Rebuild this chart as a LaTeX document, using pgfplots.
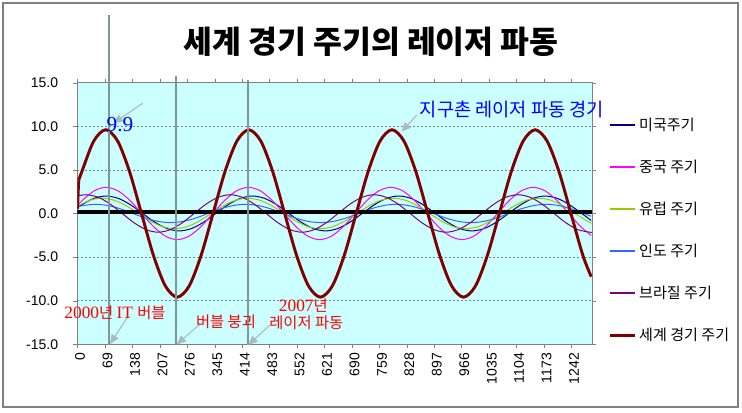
\documentclass[border=0pt]{standalone}
\usepackage{pgfplots}
\pgfplotsset{compat=1.18}
\usetikzlibrary{arrows.meta}
\usepackage{fontspec}
\setmainfont{Liberation Sans}
\newfontfamily\cjk{Noto Sans CJK KR}
\newfontfamily\srf{Liberation Serif}
\definecolor{bgcyan}{HTML}{CCFFFF}
\definecolor{colus}{HTML}{000080}
\definecolor{colchina}{HTML}{FF00FF}
\definecolor{coleu}{HTML}{99CC00}
\definecolor{colindia}{HTML}{3366FF}
\definecolor{colbrazil}{HTML}{800080}
\definecolor{colworld}{HTML}{800000}
\definecolor{vline}{HTML}{7F9797}
\definecolor{arrc}{HTML}{A8BCBC}
\definecolor{frame}{HTML}{808080}
\begin{document}
\begin{tikzpicture}
\path[use as bounding box] (0,0) rectangle (556.5pt,309pt);
\begin{axis}[
  scale only axis, width=385.9pt, height=196.2pt,
  at={(58.1pt,50.8pt)}, anchor=south west,
  xmin=0, xmax=1294, ymin=-15, ymax=15,
  axis background/.style={fill=bgcyan},
  axis line style={draw=frame},
  ytick={-15,-10,...,15},
  ymajorgrids, grid style={dash pattern=on 1.5pt off 1.5pt, frame, line width=0.5pt},
  xtick={0,69,...,1242},
  tick align=outside, major tick length=3pt,
  tick style={frame},
  /pgf/number format/assume math mode=true,
  ticklabel style={font=\fontsize{10.5}{12}\selectfont},
  y tick label style={/pgf/number format/.cd, fixed, fixed zerofill, precision=1, /tikz/.cd, xshift=-8pt},
  x tick label style={rotate=90, anchor=east, yshift=-2pt, /pgf/number format/1000 sep={}},
  legend style={at={(rel axis cs:1,1)}, anchor=north west, xshift=9pt, yshift=-22pt,
    draw=none, fill=none, font=\cjk\fontsize{11.3}{13}\selectfont, row sep=16.7pt,
    cells={anchor=west}},
  legend image code/.code={\draw[#1] (0pt,0pt) -- (19pt,0pt);},
  clip=true,
]
\addplot[color=colus, line width=0.75pt, smooth, legend image post style={line width=1.2pt}] coordinates {(0,0.67)(10.7,1)(41.3,1.73)(72,2)(102.7,1.73)(133.3,1)(164,0)(194.7,-1)(225.3,-1.73)(256,-2)(286.7,-1.73)(317.3,-1)(348,0)(378.7,1)(409.3,1.73)(440,2)(470.7,1.73)(501.3,1)(532,0)(562.7,-1)(593.3,-1.73)(624,-2)(654.7,-1.73)(685.3,-1)(716,0)(746.7,1)(777.3,1.73)(808,2)(838.7,1.73)(869.3,1)(900,0)(930.7,-1)(961.3,-1.73)(992,-2)(1022.7,-1.73)(1053.3,-1)(1084,0)(1114.7,1)(1145.3,1.73)(1176,2)(1206.7,1.73)(1237.3,1)(1268,0)(1292,-0.8)};
\addlegendentry{미국주기}
\addplot[color=colchina, line width=0.75pt, smooth, legend image post style={line width=1.2pt}] coordinates {(0,0.91)(12.3,1.5)(42.2,2.6)(72,3)(101.8,2.6)(131.7,1.5)(161.5,0)(191.3,-1.5)(221.2,-2.6)(251,-3)(280.8,-2.6)(310.7,-1.5)(340.5,0)(370.3,1.5)(400.2,2.6)(430,3)(459.8,2.6)(489.7,1.5)(519.5,0)(549.3,-1.5)(579.2,-2.6)(609,-3)(638.8,-2.6)(668.7,-1.5)(698.5,0)(728.3,1.5)(758.2,2.6)(788,3)(817.8,2.6)(847.7,1.5)(877.5,0)(907.3,-1.5)(937.2,-2.6)(967,-3)(996.8,-2.6)(1026.7,-1.5)(1056.5,0)(1086.3,1.5)(1116.2,2.6)(1146,3)(1175.8,2.6)(1205.7,1.5)(1235.5,0)(1265.3,-1.5)(1292,-2.51)};
\addlegendentry{중국 주기}
\addplot[color=coleu, line width=0.75pt, smooth, legend image post style={line width=1.2pt}] coordinates {(0,0.85)(31.5,1.52)(62,1.75)(92.5,1.52)(123,0.88)(153.5,0)(184,-0.88)(214.5,-1.52)(245,-1.75)(275.5,-1.52)(306,-0.88)(336.5,0)(367,0.88)(397.5,1.52)(428,1.75)(458.5,1.52)(489,0.88)(519.5,0)(550,-0.88)(580.5,-1.52)(611,-1.75)(641.5,-1.52)(672,-0.88)(702.5,0)(733,0.88)(763.5,1.52)(794,1.75)(824.5,1.52)(855,0.88)(885.5,0)(916,-0.88)(946.5,-1.52)(977,-1.75)(1007.5,-1.52)(1038,-0.88)(1068.5,0)(1099,0.88)(1129.5,1.52)(1160,1.75)(1190.5,1.52)(1221,0.88)(1251.5,0)(1282,-0.88)(1292,-1.12)};
\addlegendentry{유럽 주기}
\addplot[color=colindia, line width=0.75pt, smooth, legend image post style={line width=1.2pt}] coordinates {(0,0.77)(13.5,0.91)(45,1.05)(76.5,0.91)(108,0.53)(139.5,0)(171,-0.53)(202.5,-0.91)(234,-1.05)(265.5,-0.91)(297,-0.53)(328.5,0)(360,0.53)(391.5,0.91)(423,1.05)(454.5,0.91)(486,0.53)(517.5,0)(549,-0.53)(580.5,-0.91)(612,-1.05)(643.5,-0.91)(675,-0.53)(706.5,0)(738,0.53)(769.5,0.91)(801,1.05)(832.5,0.91)(864,0.53)(895.5,0)(927,-0.53)(958.5,-0.91)(990,-1.05)(1021.5,-0.91)(1053,-0.53)(1084.5,0)(1116,0.53)(1147.5,0.91)(1179,1.05)(1210.5,0.91)(1242,0.53)(1273.5,0)(1292,-0.32)};
\addlegendentry{인도 주기}
\addplot[color=colbrazil, line width=0.75pt, smooth, legend image post style={line width=1.2pt}] coordinates {(0,1.99)(22,2.15)(52.2,1.86)(82.3,1.08)(112.5,0)(142.7,-1.08)(172.8,-1.86)(203,-2.15)(233.2,-1.86)(263.3,-1.08)(293.5,0)(323.7,1.08)(353.8,1.86)(384,2.15)(414.2,1.86)(444.3,1.08)(474.5,0)(504.7,-1.08)(534.8,-1.86)(565,-2.15)(595.2,-1.86)(625.3,-1.08)(655.5,0)(685.7,1.08)(715.8,1.86)(746,2.15)(776.2,1.86)(806.3,1.08)(836.5,0)(866.7,-1.08)(896.8,-1.86)(927,-2.15)(957.2,-1.86)(987.3,-1.08)(1017.5,0)(1047.7,1.08)(1077.8,1.86)(1108,2.15)(1138.2,1.86)(1168.3,1.08)(1198.5,0)(1228.7,-1.08)(1258.8,-1.86)(1289,-2.15)(1292,-2.15)};
\addlegendentry{브라질 주기}
\addplot[black, line width=3pt, forget plot] coordinates {(0,0.15)(1294,0.15)};
\addplot[colworld, line width=2.2pt, forget plot] coordinates {(0,0.5)(3,3.8)};
\addplot[color=colworld, line width=2.2pt, smooth] coordinates {(3,3.8)(11,4.8)(41,8.31)(71,9.6)(101,8.31)(131,4.8)(161,0)(191,-4.8)(221,-8.31)(251,-9.6)(281,-8.31)(311,-4.8)(341,0)(371,4.8)(401,8.31)(431,9.6)(461,8.31)(491,4.8)(521,0)(551,-4.8)(581,-8.31)(611,-9.6)(641,-8.31)(671,-4.8)(701,0)(731,4.8)(761,8.31)(791,9.6)(821,8.31)(851,4.8)(881,0)(911,-4.8)(941,-8.31)(971,-9.6)(1001,-8.31)(1031,-4.8)(1061,0)(1091,4.8)(1121,8.31)(1151,9.6)(1181,8.31)(1211,4.8)(1241,0)(1271,-4.8)(1292,-7.25)};
\addlegendentry{세계 경기 주기}
\end{axis}
\begin{scope}[yshift=309pt, x=0.75pt, y=-0.75pt]
  \draw[frame, line width=1.5pt] (3,3) rectangle (738,407);
  \node[font=\cjk\bfseries\fontsize{23.5}{26}\selectfont] at (371,42) {세계 경기 주기의 레이저 파동};
  \draw[vline, line width=1.3pt] (109.3,15) -- (109.3,345);
  \draw[vline, line width=1.3pt] (175.7,76) -- (175.7,345);
  \draw[vline, line width=1.3pt] (248.3,80) -- (248.3,345);
  \draw[arrc, line width=0.8pt, -{Triangle[length=7pt,width=6pt]}] (142.7,103.3) -- (113.3,123.3);
  \draw[arrc, line width=0.8pt, -{Triangle[length=7pt,width=6pt]}] (416.7,115) -- (401.7,131.7);
  \draw[arrc, line width=0.8pt, -{Triangle[length=7pt,width=6pt]}] (128.3,316) -- (110,344);
  \draw[arrc, line width=0.8pt, -{Triangle[length=7pt,width=6pt]}] (200,324) -- (176.7,344.5);
  \draw[arrc, line width=0.8pt, -{Triangle[length=7pt,width=6pt]}] (270,325) -- (248.3,345);
  \node[text=blue, font=\srf\fontsize{16}{18}\selectfont] at (120,125) {9.9};
  \node[text=blue, font=\cjk\fontsize{14}{16}\selectfont] at (512,110) {지구촌 레이저 파동 경기};
  \node[text=red, inner sep=0pt] at (115,312.5) {\srf\fontsize{13}{15}\selectfont 2000\cjk\fontsize{11.5}{13}\selectfont 년 \srf\fontsize{13}{15}\selectfont IT \cjk\fontsize{11.5}{13}\selectfont 버블};
  \node[text=red, inner sep=0pt, font=\cjk\fontsize{11.5}{13}\selectfont] at (226,322) {버블 붕괴};
  \node[text=red, inner sep=0pt] at (303.3,306) {\srf\fontsize{13}{15}\selectfont 2007\cjk\fontsize{11.5}{13}\selectfont 년};
  \node[text=red, inner sep=0pt, font=\cjk\fontsize{11.5}{13}\selectfont] at (306.3,323) {레이저 파동};
\end{scope}
\end{tikzpicture}
\end{document}
